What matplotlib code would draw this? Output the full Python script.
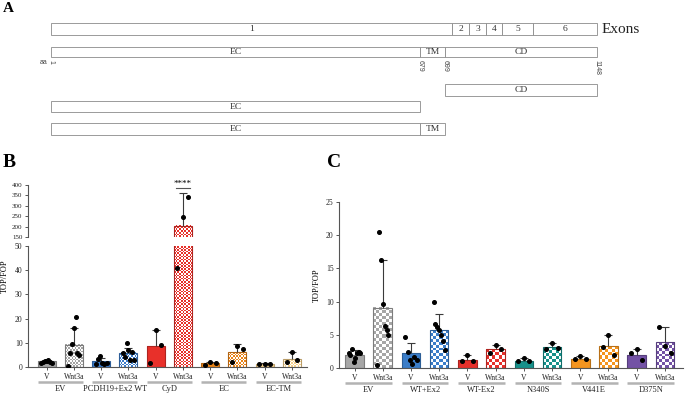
import numpy as np
import matplotlib
matplotlib.use('Agg')
import matplotlib.pyplot as plt
from matplotlib.patches import Rectangle
from matplotlib.colors import to_rgb
from matplotlib.transforms import offset_copy

plt.rcParams['font.family'] = ['Liberation Serif', 'DejaVu Serif']

# ---- panel A: schematic (units along the drawn bar) ----
exon_names = ['1', '2', '3', '4', '5', '6']
exon_edges = [0, 401, 418, 435, 451, 482, 546]
domain_names = ['EC', 'TM', 'CD']
domain_edges = [0, 369, 394, 546]
aa_marks = ['1', '679', '699', '1148']
constructs = [[2], [0], [0, 1]]   # domains kept in each construct

# ---- panel B ----
b_groups = ['EV', 'PCDH19+Ex2 WT', 'CyD', 'EC', 'EC-TM']
b_colors = ['#a4a4a4', '#3b7ccb', '#e8302a', '#ea8418', '#f5d08a']
b_mean = [2.3, 9.2, 2.3, 5.8, 8.5, 205, 1.5, 6.0, 1.3, 3.3]
b_sd_top = [2.8, 16.2, 3.8, 8.0, 15.3, 360, 2.0, 9.5, 1.5, 6.0]
b_points = [
    [1.5, 2.0, 2.3, 2.5, 2.8, 2.1, 1.8],
    [0.5, 5.8, 9.7, 16.2, 20.5, 5.8, 5.0],
    [1.3, 3.5, 4.6, 1.5, 1.3, 1.5],
    [5.8, 4.0, 10.0, 7.0, 3.0, 6.0, 2.7],
    [1.5, 15.3, 9.0],
    [41, 245, 340],
    [1.0, 2.2, 1.8],
    [2.0, 8.5, 7.5],
    [1.3, 1.4, 1.4],
    [2.0, 6.0, 3.0],
]

# ---- panel C ----
c_groups = ['EV', 'WT+Ex2', 'WT-Ex2', 'N340S', 'V441E', 'D375N']
c_colors = ['#a6a6a6', '#3b7dc8', '#e6302b', '#17908a', '#f5951f', '#7352a5']
c_mean = [2.0, 9.1, 2.3, 5.7, 1.25, 2.8, 1.1, 3.1, 1.4, 3.3, 2.0, 3.9]
c_sd_top = [2.7, 16.2, 3.8, 8.1, 2.0, 3.5, 1.5, 3.7, 1.8, 4.9, 2.8, 6.1]
c_points = [
    [2.3, 1.9, 2.8, 0.9, 1.5, 2.2, 2.4, 2.3],
    [0.5, 20.5, 16.2, 9.7, 6.3, 5.7, 5.0],
    [4.7, 2.4, 1.25, 0.6, 1.65, 1.25],
    [10.0, 6.7, 6.2, 5.7, 5.0, 4.1, 2.7],
    [1.0, 2.0, 1.1],
    [2.2, 3.5, 2.8],
    [1.0, 1.5, 1.0],
    [2.8, 3.7, 3.0],
    [1.3, 1.8, 1.3],
    [3.2, 4.9, 2.0],
    [2.2, 2.8, 1.2],
    [6.2, 3.3, 2.3],
]
tick_names = ['V', 'Wnt3a']

W, H = 685, 394
fig = plt.figure(figsize=(W / 100, H / 100), dpi=100)


def frac(x0, y_top, x1, y_bot):
    return [x0 / W, 1 - y_bot / H, (x1 - x0) / W, (y_bot - y_top) / H]


def darker(c, f=0.7):
    return tuple(v * f for v in to_rgb(c))


# ---------------- panel A ----------------
ax_a = fig.add_axes([0, 0, 1, 1], zorder=0)
ax_a.set_xlim(0, W)
ax_a.set_ylim(H, 0)
ax_a.axis('off')
x0a = 51


def box(u0, u1, top, h, label):
    ax_a.add_patch(Rectangle((x0a + u0, top), u1 - u0, h, facecolor='white',
                             edgecolor='#8a8a8a', lw=0.6))
    ax_a.text(x0a + (u0 + u1) / 2, top + h / 2 + 0.3, label, ha='center', va='center',
              fontsize=6.8, color='#333333')


for i, name in enumerate(exon_names):
    box(exon_edges[i], exon_edges[i + 1], 23.3, 11.4, name)
ax_a.text(602, 29.5, 'Exons', ha='left', va='center', fontsize=11, color='#222222')

for i, name in enumerate(domain_names):
    box(domain_edges[i], domain_edges[i + 1], 46.7, 10.2, name)
for i, lab in enumerate(aa_marks):
    ax_a.text(x0a + domain_edges[i], 59.5, lab, rotation=-90, ha='center', va='top',
              fontsize=5, family='Liberation Sans', color='#444444')
ax_a.text(x0a - 3, 62, 'aa', ha='right', va='center', fontsize=5,
          family='Liberation Sans', color='#444444')

for top, doms in zip([84.3, 101.0, 123.3], constructs):
    for d in doms:
        box(domain_edges[d], domain_edges[d + 1], top, 11.4, domain_names[d])


# ---------------- helpers for bar panels ----------------
def checker(ax, bar, color, cell):
    x, w = bar.get_x(), bar.get_width()
    lo, hi = ax.get_ylim()
    y0 = max(bar.get_y(), lo)
    y1 = min(bar.get_y() + bar.get_height(), hi)
    if y1 <= y0:
        return
    p0 = ax.transData.transform((x, y0))
    p1 = ax.transData.transform((x + w, y1))
    nx = max(1, int(round(abs(p1[0] - p0[0]) / cell)))
    ny = max(1, int(round(abs(p1[1] - p0[1]) / cell)))
    grid = (np.add.outer(np.arange(ny), np.arange(nx)) % 2)[..., None].astype(float)
    img = grid * np.array(to_rgb(color)) + (1 - grid) * np.ones(3)
    ax.imshow(img, extent=(x, x + w, y0, y1), origin='lower', aspect='auto',
              interpolation='nearest', zorder=2)


def draw_bars(ax, means, tops, points, colors, cell, width=0.66):
    xs = np.arange(len(means))
    for i in xs:
        col = colors[i // 2]
        hatched = i % 2 == 1
        bar = ax.bar(i, means[i], width, color=col, edgecolor='none', zorder=1.5)[0]
        if hatched:
            checker(ax, bar, col, cell)
        ax.bar(i, means[i], width, fill=False, edgecolor=darker(col, 0.75), lw=0.8, zorder=3)
        eb = ax.errorbar(i, means[i], yerr=[[0], [tops[i] - means[i]]], fmt='none',
                         ecolor='#3a3a3a', elinewidth=0.8, capsize=3, capthick=0.8, zorder=3.5)
        eb[1][0].set_visible(False)
        n = len(points[i])
        offs = np.linspace(-0.2, 0.2, n) if n > 1 else [0]
        ax.plot(i + np.asarray(offs), points[i], 'o', ms=2.6, color='black', zorder=4)


def style(ax):
    for s in ['top', 'right']:
        ax.spines[s].set_visible(False)
    for s in ['left', 'bottom']:
        ax.spines[s].set_color('#555555')
        ax.spines[s].set_linewidth(0.8)
    ax.tick_params(axis='both', colors='#555555', labelcolor='#222222', labelsize=5.5,
                   width=0.7, length=2.5, pad=1.5)


def group_axis(ax, groups, width=0.66):
    ax.set_xticks(np.arange(2 * len(groups)))
    ax.set_xticklabels(tick_names * len(groups))
    line_tr = offset_copy(ax.get_xaxis_transform(), fig=fig, y=-15, units='dots')
    text_tr = offset_copy(ax.get_xaxis_transform(), fig=fig, y=-22, units='dots')
    for g, name in enumerate(groups):
        ax.plot([2 * g - width / 2, 2 * g + 1 + width / 2], [0, 0], color='#b3b3b3', lw=1.8,
                transform=line_tr, clip_on=False, solid_capstyle='butt')
        ax.text(2 * g + 0.5, 0, name, transform=text_tr, ha='center', va='center',
                fontsize=6, color='#222222')


# ---------------- panel B ----------------
ax_lo = fig.add_axes(frac(28, 246, 307, 367))
ax_up = fig.add_axes(frac(28, 185, 307, 237))
for ax, lim in ((ax_lo, (0, 50)), (ax_up, (150, 400))):
    ax.set_xlim(-0.68, 9.55)
    ax.set_ylim(*lim)
    style(ax)
ax_lo.set_yticks(range(0, 51, 10))
ax_up.set_yticks(range(150, 401, 50))
ax_up.tick_params(axis='y', labelsize=5)
ax_up.spines['bottom'].set_visible(False)
ax_up.tick_params(axis='x', bottom=False, labelbottom=False)
draw_bars(ax_lo, b_mean, b_sd_top, b_points, b_colors, cell=1.6)
draw_bars(ax_up, b_mean, b_sd_top, b_points, b_colors, cell=1.6)
ax_lo.set_xlim(-0.68, 9.55)
ax_up.set_xlim(-0.68, 9.55)
ax_lo.set_ylim(0, 50)
ax_up.set_ylim(150, 400)
group_axis(ax_lo, b_groups)
ax_up.plot([4.75, 5.25], [384, 384], color='#555555', lw=0.8, clip_on=False)
ax_up.text(5, 406, '****', ha='center', va='center', fontsize=6.5, clip_on=False)
fig.text(5 / W, 1 - 276 / H, 'TOP/FOP', rotation=90, ha='center', va='center', fontsize=6)

# ---------------- panel C ----------------
ax_c = fig.add_axes(frac(339, 202, 683, 368))
ax_c.set_xlim(-0.55, 11.64)
ax_c.set_ylim(0, 25)
style(ax_c)
ax_c.set_yticks(range(0, 26, 5))
draw_bars(ax_c, c_mean, c_sd_top, c_points, c_colors, cell=3.0)
ax_c.set_xlim(-0.55, 11.64)
ax_c.set_ylim(0, 25)
group_axis(ax_c, c_groups)
fig.text(317 / W, 1 - 285 / H, 'TOP/FOP', rotation=90, ha='center', va='center', fontsize=6)

# panel letters
fig.text(3 / W, 1 - 2 / H, 'A', fontsize=11, fontweight='bold', va='top', ha='left')
fig.text(3 / W, 1 - 154 / H, 'B', fontsize=14, fontweight='bold', va='top', ha='left')
fig.text(327 / W, 1 - 154 / H, 'C', fontsize=14, fontweight='bold', va='top', ha='left')

fig.savefig('out.png', dpi=100)
